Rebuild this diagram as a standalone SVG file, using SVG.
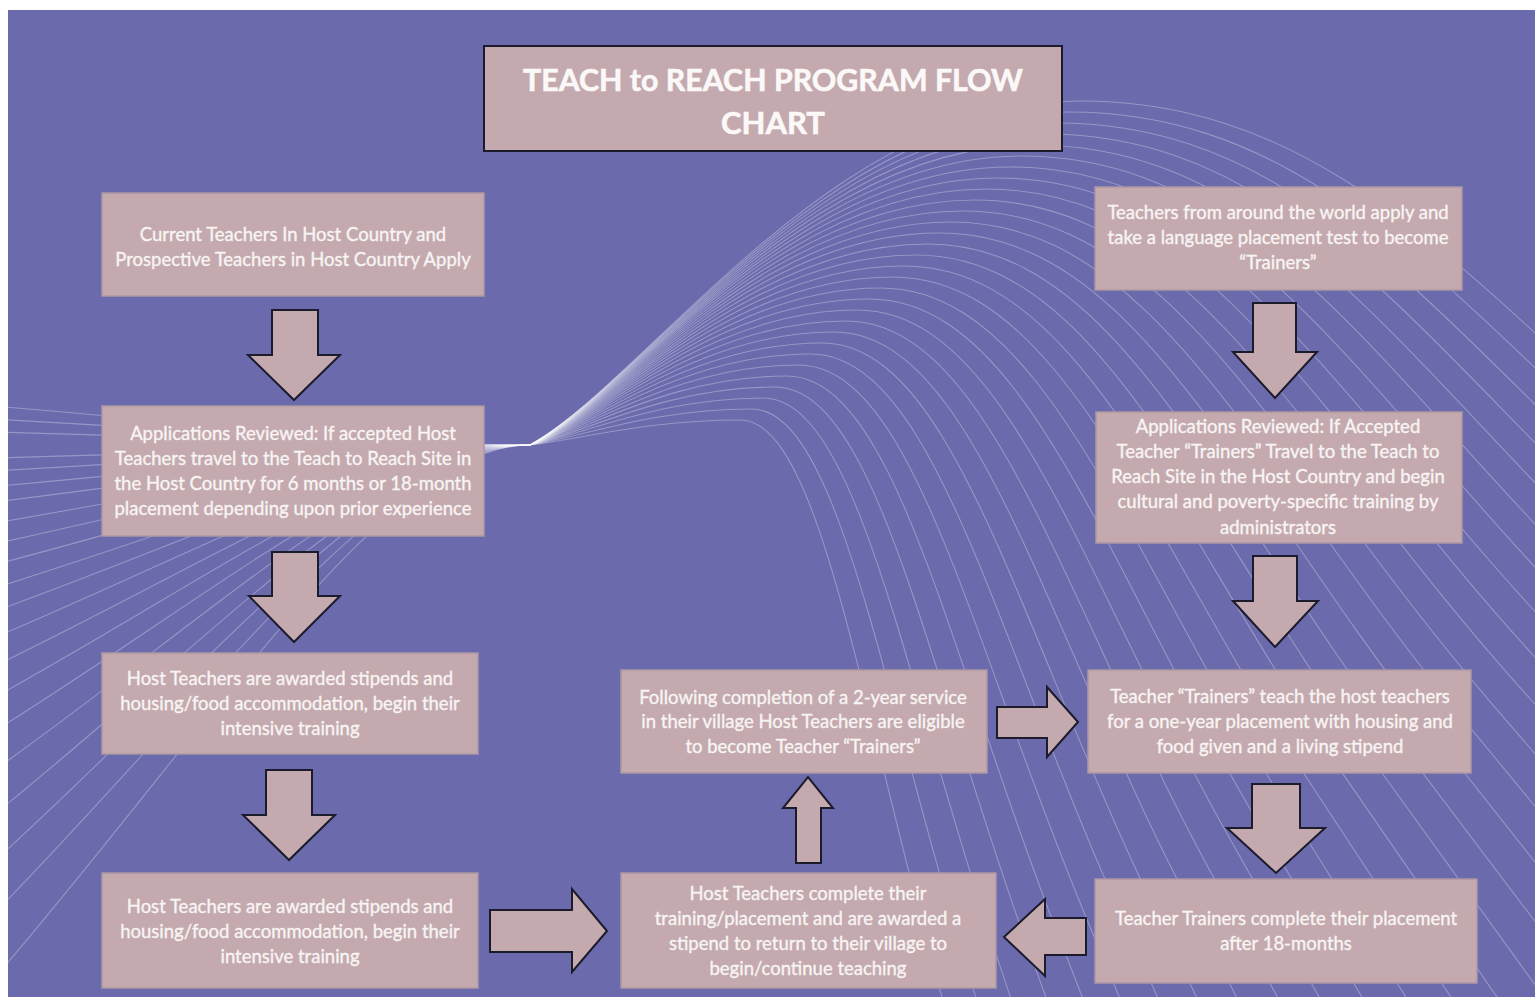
<svg xmlns="http://www.w3.org/2000/svg" xmlns:xlink="http://www.w3.org/1999/xlink" width="1535" height="997" viewBox="0 0 1535 997">
<style>
.box{fill:#c4aaae;stroke:#ad97a3;stroke-width:1.5}
.title{fill:#c4aaae;stroke:#1b1b2b;stroke-width:2}
.t{font-family:Lato,"Open Sans",sans-serif;font-size:18.5px;fill:#f8f4f4;stroke:#f8f4f4;stroke-width:0.35;text-anchor:middle}
.tt{font-family:Lato,"Open Sans",sans-serif;font-size:31px;font-weight:bold;fill:#fbf8f8;stroke:#fbf8f8;stroke-width:0.6;text-anchor:middle}
.arr{fill:#c4aaae;stroke:#1b1b2b;stroke-width:2;stroke-linejoin:miter}
.w{fill:none;stroke:#ffffff;stroke-opacity:0.3;stroke-width:1.1}
</style>
<defs>
<clipPath id="bgclip"><rect x="8" y="10" width="1527" height="987"/></clipPath>
<path id="wl" d="M -1100,450 C -600,420 -250,0 0,0" vector-effect="non-scaling-stroke"/>
<path id="rise" d="M 0,0 C 0.22,-0.2 0.55,-1 1,-1" vector-effect="non-scaling-stroke"/>
<path id="fall" d="M 0,0 C 0.4,0 0.6,0.5 1,1 L 2.2,2.5" vector-effect="non-scaling-stroke"/>
</defs>
<rect x="0" y="0" width="1535" height="997" fill="#ffffff"/>
<rect x="8" y="10" width="1527" height="987" fill="#6a6aad"/>
<g id="waves" class="w" clip-path="url(#bgclip)">
<use href="#wl" transform="translate(530,445) scale(1,-0.15)"/>
<use href="#wl" transform="translate(530,445) scale(1,-0.1)"/>
<use href="#wl" transform="translate(530,445) scale(1,-0.05)"/>
<use href="#wl" transform="translate(530,445) scale(1,0)"/>
<use href="#wl" transform="translate(530,445) scale(1,0.05)"/>
<use href="#wl" transform="translate(530,445) scale(1,0.1)"/>
<use href="#wl" transform="translate(530,445) scale(1,0.16)"/>
<use href="#wl" transform="translate(530,445) scale(1,0.22)"/>
<use href="#wl" transform="translate(530,445) scale(1,0.3)"/>
<use href="#wl" transform="translate(530,445) scale(1,0.38)"/>
<use href="#wl" transform="translate(530,445) scale(1,0.46)"/>
<use href="#wl" transform="translate(530,445) scale(1,0.55)"/>
<use href="#wl" transform="translate(530,445) scale(1,0.64)"/>
<use href="#wl" transform="translate(530,445) scale(1,0.74)"/>
<use href="#wl" transform="translate(530,445) scale(1,0.85)"/>
<use href="#wl" transform="translate(530,445) scale(1,0.97)"/>
<use href="#wl" transform="translate(530,445) scale(1,1.1)"/>
<use href="#wl" transform="translate(530,445) scale(1,1.25)"/>
<use href="#wl" transform="translate(530,445) scale(1,1.42)"/>
<use href="#wl" transform="translate(530,445) scale(1,1.6)"/>
<use href="#wl" transform="translate(530,445) scale(1,1.8)"/>
<use href="#wl" transform="translate(530,445) scale(1,2.05)"/>
<use href="#rise" transform="translate(530,445) scale(210,25)"/><use href="#fall" transform="translate(740,420) scale(200,570)"/>
<use href="#rise" transform="translate(530,445) scale(221.7,36)"/><use href="#fall" transform="translate(751.7,409) scale(217.2,565.8)"/>
<use href="#rise" transform="translate(530,445) scale(233.4,47)"/><use href="#fall" transform="translate(763.4,398) scale(234.5,561.7)"/>
<use href="#rise" transform="translate(530,445) scale(245.2,58)"/><use href="#fall" transform="translate(775.2,387) scale(251.7,557.5)"/>
<use href="#rise" transform="translate(530,445) scale(256.9,69)"/><use href="#fall" transform="translate(786.9,376) scale(269,553.3)"/>
<use href="#rise" transform="translate(530,445) scale(268.6,80)"/><use href="#fall" transform="translate(798.6,365) scale(286.2,549.2)"/>
<use href="#rise" transform="translate(530,445) scale(280.3,91)"/><use href="#fall" transform="translate(810.3,354) scale(303.4,545)"/>
<use href="#rise" transform="translate(530,445) scale(292,102)"/><use href="#fall" transform="translate(822,343) scale(320.7,540.8)"/>
<use href="#rise" transform="translate(530,445) scale(303.8,113)"/><use href="#fall" transform="translate(833.8,332) scale(337.9,536.6)"/>
<use href="#rise" transform="translate(530,445) scale(315.5,124)"/><use href="#fall" transform="translate(845.5,321) scale(355.2,532.5)"/>
<use href="#rise" transform="translate(530,445) scale(327.2,135)"/><use href="#fall" transform="translate(857.2,310) scale(372.4,528.3)"/>
<use href="#rise" transform="translate(530,445) scale(338.9,146)"/><use href="#fall" transform="translate(868.9,299) scale(389.6,524.1)"/>
<use href="#rise" transform="translate(530,445) scale(350.6,157)"/><use href="#fall" transform="translate(880.6,288) scale(406.9,520)"/>
<use href="#rise" transform="translate(530,445) scale(362.4,168)"/><use href="#fall" transform="translate(892.4,277) scale(424.1,515.8)"/>
<use href="#rise" transform="translate(530,445) scale(374.1,179)"/><use href="#fall" transform="translate(904.1,266) scale(441.4,511.6)"/>
<use href="#rise" transform="translate(530,445) scale(385.8,190)"/><use href="#fall" transform="translate(915.8,255) scale(458.6,507.5)"/>
<use href="#rise" transform="translate(530,445) scale(397.5,201)"/><use href="#fall" transform="translate(927.5,244) scale(475.8,503.3)"/>
<use href="#rise" transform="translate(530,445) scale(409.2,212)"/><use href="#fall" transform="translate(939.2,233) scale(493.1,499.1)"/>
<use href="#rise" transform="translate(530,445) scale(421,223)"/><use href="#fall" transform="translate(951,222) scale(510.3,494.9)"/>
<use href="#rise" transform="translate(530,445) scale(432.7,234)"/><use href="#fall" transform="translate(962.7,211) scale(527.6,490.8)"/>
<use href="#rise" transform="translate(530,445) scale(444.4,245)"/><use href="#fall" transform="translate(974.4,200) scale(544.8,486.6)"/>
<use href="#rise" transform="translate(530,445) scale(456.1,256)"/><use href="#fall" transform="translate(986.1,189) scale(562,482.4)"/>
<use href="#rise" transform="translate(530,445) scale(467.8,267)"/><use href="#fall" transform="translate(997.8,178) scale(579.3,478.3)"/>
<use href="#rise" transform="translate(530,445) scale(479.6,278)"/><use href="#fall" transform="translate(1009.6,167) scale(596.5,474.1)"/>
<use href="#rise" transform="translate(530,445) scale(491.3,289)"/><use href="#fall" transform="translate(1021.3,156) scale(613.8,469.9)"/>
<use href="#rise" transform="translate(530,445) scale(503,300)"/><use href="#fall" transform="translate(1033,145) scale(631,465.8)"/>
<use href="#rise" transform="translate(530,445) scale(514.7,311)"/><use href="#fall" transform="translate(1044.7,134) scale(648.2,461.6)"/>
<use href="#rise" transform="translate(530,445) scale(526.4,322)"/><use href="#fall" transform="translate(1056.4,123) scale(665.5,457.4)"/>
<use href="#rise" transform="translate(530,445) scale(538.2,333)"/><use href="#fall" transform="translate(1068.2,112) scale(682.7,453.2)"/>
<use href="#rise" transform="translate(530,445) scale(549.9,344)"/><use href="#fall" transform="translate(1079.9,101) scale(700,449.1)"/>
</g>
<g id="title">
<rect class="title" x="484" y="46" width="578" height="105"/>
<text class="tt" x="773" y="91" textLength="500" lengthAdjust="spacingAndGlyphs">TEACH to REACH PROGRAM FLOW</text>
<text class="tt" x="773" y="134">CHART</text>
</g>
<g id="connectors">
<polygon class="arr" points="272,310 318,310 318,355 340,355 294,400 248,355 272,355"/>
<polygon class="arr" points="272,552 318,552 318,596 340,596 294,642 249,596 272,596"/>
<polygon class="arr" points="266,770 312,770 312,815 335,815 289,860 243,815 266,815"/>
<polygon class="arr" points="490,910 572,910 572,889 607,931 572,972 572,952 490,952"/>
<polygon class="arr" points="796,863 796,808 783,808 808,777 833,808 821,808 821,863"/>
<polygon class="arr" points="997,707 1047,707 1047,687 1078,722 1047,757 1047,738 997,738"/>
<polygon class="arr" points="1086,918 1045,918 1045,899 1004,937 1045,976 1045,955 1086,955"/>
<polygon class="arr" points="1253,303 1296,303 1296,352 1317,352 1275,398 1233,352 1253,352"/>
<polygon class="arr" points="1253,556 1297,556 1297,601 1318,601 1275,647 1233,601 1253,601"/>
<polygon class="arr" points="1252,784 1300,784 1300,828 1325,828 1276,873 1227,828 1252,828"/>
</g>
<g id="n1">
<rect class="box" x="102" y="193" width="382" height="103"/>
<text class="t" x="293" y="241">Current Teachers In Host Country and</text>
<text class="t" x="293" y="266">Prospective Teachers in Host Country Apply</text>
</g>
<g id="n2">
<rect class="box" x="102" y="406" width="382" height="130"/>
<text class="t" x="293" y="440">Applications Reviewed: If accepted Host</text>
<text class="t" x="293" y="465">Teachers travel to the Teach to Reach Site in</text>
<text class="t" x="293" y="490">the Host Country for 6 months or 18-month</text>
<text class="t" x="293" y="515">placement depending upon prior experience</text>
</g>
<g id="n3">
<rect class="box" x="102" y="653" width="376" height="101"/>
<text class="t" x="290" y="685">Host Teachers are awarded stipends and</text>
<text class="t" x="290" y="710">housing/food accommodation, begin their</text>
<text class="t" x="290" y="735">intensive training</text>
</g>
<g id="n4">
<rect class="box" x="102" y="873" width="376" height="115"/>
<text class="t" x="290" y="913">Host Teachers are awarded stipends and</text>
<text class="t" x="290" y="938">housing/food accommodation, begin their</text>
<text class="t" x="290" y="963">intensive training</text>
</g>
<g id="n5">
<rect class="box" x="621" y="873" width="375" height="115"/>
<text class="t" x="808" y="900">Host Teachers complete their</text>
<text class="t" x="808" y="925">training/placement and are awarded a</text>
<text class="t" x="808" y="950">stipend to return to their village to</text>
<text class="t" x="808" y="975">begin/continue teaching</text>
</g>
<g id="n6">
<rect class="box" x="621" y="670" width="366" height="103"/>
<text class="t" x="803" y="704">Following completion of a 2-year service</text>
<text class="t" x="803" y="728">in their village Host Teachers are eligible</text>
<text class="t" x="803" y="753">to become Teacher “Trainers”</text>
</g>
<g id="n7">
<rect class="box" x="1088" y="670" width="383" height="103"/>
<text class="t" x="1280" y="703">Teacher “Trainers” teach the host teachers</text>
<text class="t" x="1280" y="728">for a one-year placement with housing and</text>
<text class="t" x="1280" y="753">food given and a living stipend</text>
</g>
<g id="n8">
<rect class="box" x="1095" y="879" width="382" height="104"/>
<text class="t" x="1286" y="925">Teacher Trainers complete their placement</text>
<text class="t" x="1286" y="950">after 18-months</text>
</g>
<g id="r1">
<rect class="box" x="1095" y="187" width="367" height="103"/>
<text class="t" x="1278" y="219">Teachers from around the world apply and</text>
<text class="t" x="1278" y="244">take a language placement test to become</text>
<text class="t" x="1278" y="269">“Trainers”</text>
</g>
<g id="r2">
<rect class="box" x="1096" y="412" width="366" height="131"/>
<text class="t" x="1278" y="433">Applications Reviewed: If Accepted</text>
<text class="t" x="1278" y="458">Teacher “Trainers” Travel to the Teach to</text>
<text class="t" x="1278" y="483">Reach Site in the Host Country and begin</text>
<text class="t" x="1278" y="508">cultural and poverty-specific training by</text>
<text class="t" x="1278" y="534">administrators</text>
</g>
</svg>
